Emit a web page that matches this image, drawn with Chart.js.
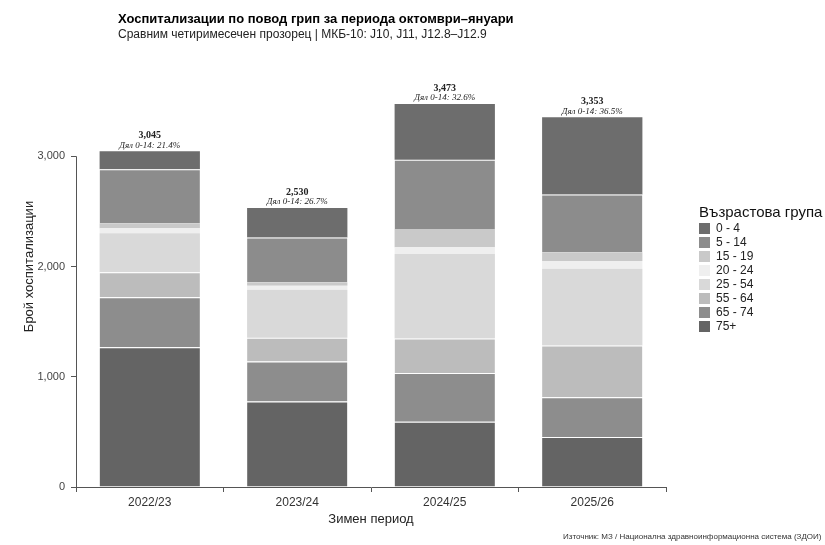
<!DOCTYPE html>
<html>
<head>
<meta charset="utf-8">
<script src="https://cdn.jsdelivr.net/npm/chart.js@4.4.1/dist/chart.umd.min.js"></script>
<style>
  html, body { margin: 0; padding: 0; background: #fff; overflow: hidden; }
  #wrap { position: relative; width: 825px; height: 545px; font-family: "Liberation Sans", Arial, sans-serif; }
  #wrap canvas { position: absolute; left: 0; top: 0; }
  .chart-title { position: absolute; left: 118px; top: 11px; font-size: 13px; font-weight: bold; line-height: 16px; color: #000; white-space: nowrap; }
  .chart-subtitle { position: absolute; left: 118px; top: 27px; font-size: 12px; line-height: 14px; color: #222; white-space: nowrap; }
  .chart-source { position: absolute; left: 563px; top: 531px; font-size: 8px; line-height: 11px; color: #333; white-space: nowrap; }
  #legend { position: absolute; left: 699px; top: 203px; color: #222; }
  #legend .legend-title { font-size: 15px; line-height: 18px; color: #111; white-space: nowrap; }
  #legend .legend-row { height: 14px; display: flex; align-items: center; font-size: 12px; }
  #legend .legend-box { width: 11px; height: 11px; margin-right: 6px; }
</style>
</head>
<body>
<div id="wrap">
  <canvas id="fluChart" width="825" height="545"></canvas>
  <div class="chart-title">Хоспитализации по повод грип за периода октомври–януари</div>
  <div class="chart-subtitle">Сравним четиримесечен прозорец | МКБ-10: J10, J11, J12.8–J12.9</div>
  <div id="legend"><div class="legend-title">Възрастова група</div></div>
  <div class="chart-source">Източник: МЗ / Национална здравноинформационна система (ЗДОИ)</div>
</div>
<script>
// Winter seasons (Oct-Jan window) and age groups
var seasons = ['2022/23', '2023/24', '2024/25', '2025/26'];
var ageGroups = ['0 - 4', '5 - 14', '15 - 19', '20 - 24', '25 - 54', '55 - 64', '65 - 74', '75+'];

// Hospitalisations per age group, one value per season
var age0to4   = [163, 267, 505, 700];
var age5to14  = [490, 408, 628, 524];
var age15to19 = [45, 30, 166, 80];
var age20to24 = [45, 36, 61, 70];
var age25to54 = [354, 435, 765, 696];
var age55to64 = [227, 215, 315, 470];
var age65to74 = [453, 363, 441, 360];
var age75plus = [1268, 776, 592, 453];

var yTicks = [0, 1000, 2000, 3000];

var groupValues = [age0to4, age5to14, age15to19, age20to24, age25to54, age55to64, age65to74, age75plus];
var groupColors = ['#6d6d6d', '#8c8c8c', '#c9c9c9', '#efefef', '#d9d9d9', '#bcbcbc', '#8d8d8d', '#646464'];
// groups that get a thin white line on their upper edge
var whiteTop = [false, true, false, false, false, true, true, true];

Chart.defaults.font.family = '"Liberation Sans", Arial, sans-serif';

// 75+ sits at the bottom of the stack, 0-4 on top
var datasets = [];
for (var g = ageGroups.length - 1; g >= 0; g--) {
    datasets.push({
        label: ageGroups[g],
        data: groupValues[g],
        backgroundColor: groupColors[g],
        borderColor: '#ffffff',
        borderWidth: whiteTop[g] ? { top: 1 } : 0,
        borderSkipped: false,
        barPercentage: 0.68,
        categoryPercentage: 1.0
    });
}

// Legend list, 0-4 first
var legendEl = document.getElementById('legend');
ageGroups.forEach(function(name, g) {
    var row = document.createElement('div');
    row.className = 'legend-row';
    var box = document.createElement('span');
    box.className = 'legend-box';
    box.style.background = groupColors[g];
    row.appendChild(box);
    row.appendChild(document.createTextNode(name));
    legendEl.appendChild(row);
});

// Y axis line only over the labelled tick range
var yAxisLine = {
    id: 'yAxisLine',
    afterDraw: function(chart) {
        var ctx = chart.ctx;
        var yScale = chart.scales.y;
        var x = Math.round(chart.chartArea.left) + 0.5;
        ctx.save();
        ctx.strokeStyle = '#555';
        ctx.lineWidth = 1;
        ctx.beginPath();
        ctx.moveTo(x, yScale.getPixelForValue(yTicks[yTicks.length - 1]));
        ctx.lineTo(x, yScale.getPixelForValue(yTicks[0]));
        ctx.stroke();
        ctx.restore();
    }
};

// Season total and 0-14 share printed above each bar
var barTotals = {
    id: 'barTotals',
    afterDatasetsDraw: function(chart) {
        var ctx = chart.ctx;
        var yScale = chart.scales.y;
        var topMeta = chart.getDatasetMeta(chart.data.datasets.length - 1);
        ctx.save();
        ctx.textAlign = 'center';
        ctx.textBaseline = 'middle';
        ctx.fillStyle = '#222';
        seasons.forEach(function(season, i) {
            var total = groupValues.reduce(function(acc, arr) { return acc + arr[i]; }, 0);
            var share = (age0to4[i] + age5to14[i]) * 100 / total;
            var x = topMeta.data[i].x;
            var y = yScale.getPixelForValue(total);
            ctx.font = 'bold 10px "Liberation Serif", serif';
            ctx.fillText(total.toLocaleString('en-US'), x, y - 16);
            ctx.font = 'italic 9px "Liberation Serif", serif';
            ctx.fillText('Дял 0-14: ' + share.toFixed(1) + '%', x, y - 6);
        });
        ctx.restore();
    }
};

var ctx = document.getElementById('fluChart').getContext('2d');
new Chart(ctx, {
    type: 'bar',
    data: {
        labels: seasons,
        datasets: datasets
    },
    options: {
        responsive: false,
        animation: false,
        layout: {
            padding: { top: 46, right: 159, bottom: 13, left: 0 }
        },
        scales: {
            x: {
                stacked: true,
                grid: { drawOnChartArea: false, tickLength: 5, color: '#555' },
                border: { color: '#555' },
                ticks: { color: '#333', font: { size: 12 }, padding: 3 },
                title: {
                    display: true,
                    text: 'Зимен период',
                    color: '#222',
                    font: { size: 13 },
                    padding: { top: 0, bottom: 5 }
                },
                afterFit: function(scale) { scale.height = 45; }
            },
            y: {
                stacked: true,
                min: 0,
                max: 4000,
                afterBuildTicks: function(scale) {
                    scale.ticks = yTicks.map(function(v) { return { value: v }; });
                },
                grid: { drawOnChartArea: false, tickLength: 5, color: '#555' },
                border: { display: false },
                ticks: { color: '#444', font: { size: 11 }, padding: 6 },
                title: {
                    display: true,
                    text: 'Брой хоспитализации',
                    color: '#222',
                    font: { size: 13 },
                    padding: { top: 22, bottom: 0 }
                },
                afterFit: function(scale) { scale.width = 76; }
            }
        },
        plugins: {
            legend: { display: false },
            tooltip: { enabled: false }
        }
    },
    plugins: [barTotals, yAxisLine]
});
</script>
</body>
</html>
